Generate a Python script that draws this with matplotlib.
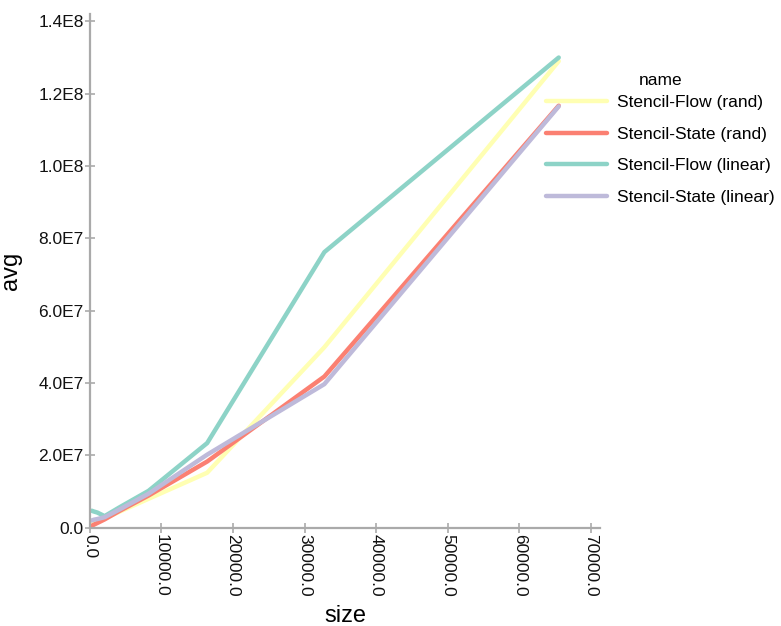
import matplotlib
matplotlib.use("Agg")
import matplotlib.pyplot as plt
from matplotlib.ticker import FuncFormatter

plt.rcParams["font.family"] = ["Liberation Sans", "DejaVu Sans"]

sizes = [256, 512, 1024, 2048, 4096, 8192, 16384, 32768, 65536]

series_names = [
    "Stencil-Flow (rand)",
    "Stencil-State (rand)",
    "Stencil-Flow (linear)",
    "Stencil-State (linear)",
]
flow_rand = [1.2e6, 1.4e6, 1.8e6, 2.6e6, 4.4e6, 8.0e6, 1.52e7, 4.99e7, 1.29e8]
state_rand = [0.5e6, 0.8e6, 1.3e6, 2.3e6, 4.6e6, 8.9e6, 1.83e7, 4.18e7, 1.167e8]
flow_linear = [4.7e6, 4.5e6, 4.2e6, 3.2e6, 5.6e6, 1.02e7, 2.34e7, 7.62e7, 1.30e8]
state_linear = [2.0e6, 2.2e6, 2.4e6, 2.9e6, 5.0e6, 9.4e6, 2.02e7, 3.97e7, 1.165e8]
series_values = [flow_rand, state_rand, flow_linear, state_linear]
colors = ["#ffffb3", "#fb8072", "#8dd3c7", "#bebada"]

x_ticks = [0, 10000, 20000, 30000, 40000, 50000, 60000, 70000]
y_ticks = [0, 2e7, 4e7, 6e7, 8e7, 1e8, 1.2e8, 1.4e8]

fig = plt.figure(figsize=(7.81, 6.26), dpi=100)
ax = fig.add_axes([0.1152, 0.157, 0.653, 0.821])

for name, vals, col in zip(series_names, series_values, colors):
    ax.plot(sizes, vals, color=col, lw=3.2, label=name, solid_capstyle="round")

ax.set_xlim(0, 71300)
ax.set_ylim(0, 1.421e8)
ax.set_xticks(x_ticks)
ax.set_yticks(y_ticks)
ax.xaxis.set_major_formatter(FuncFormatter(lambda v, p: f"{v:.1f}"))


def sci_label(v, p):
    if v == 0:
        return "0.0"
    exp = len(str(int(v))) - 1
    return f"{v / 10 ** exp:.1f}E{exp}"


ax.yaxis.set_major_formatter(FuncFormatter(sci_label))

axis_gray = "#aaaaaa"
for side in ("top", "right"):
    ax.spines[side].set_visible(False)
for side in ("left", "bottom"):
    ax.spines[side].set_color(axis_gray)
    ax.spines[side].set_linewidth(1.6)
ax.tick_params(direction="inout", length=7, width=1.2, color=axis_gray,
               labelsize=12.5, labelcolor="#111111", pad=1)
for lbl in ax.get_xticklabels():
    lbl.set_rotation(270)
    lbl.set_va("top")
    lbl.set_ha("center")

ax.set_xlabel("size", fontsize=17, labelpad=6)
ax.set_ylabel("avg", fontsize=17, labelpad=12)

# legend sits partly over the plot area, to the right of the axes
leg = fig.legend(title="name", loc="upper left", bbox_to_anchor=(0.688, 0.898),
                 frameon=False, fontsize=12.5, title_fontsize=12.5, borderpad=0,
                 handlelength=3.5, handletextpad=0.6, labelspacing=0.95)
leg._legend_box.align = "center"
leg._legend_box.sep = 5.4  # keep the title tight above the entries

fig.savefig("out.png", dpi=100)
